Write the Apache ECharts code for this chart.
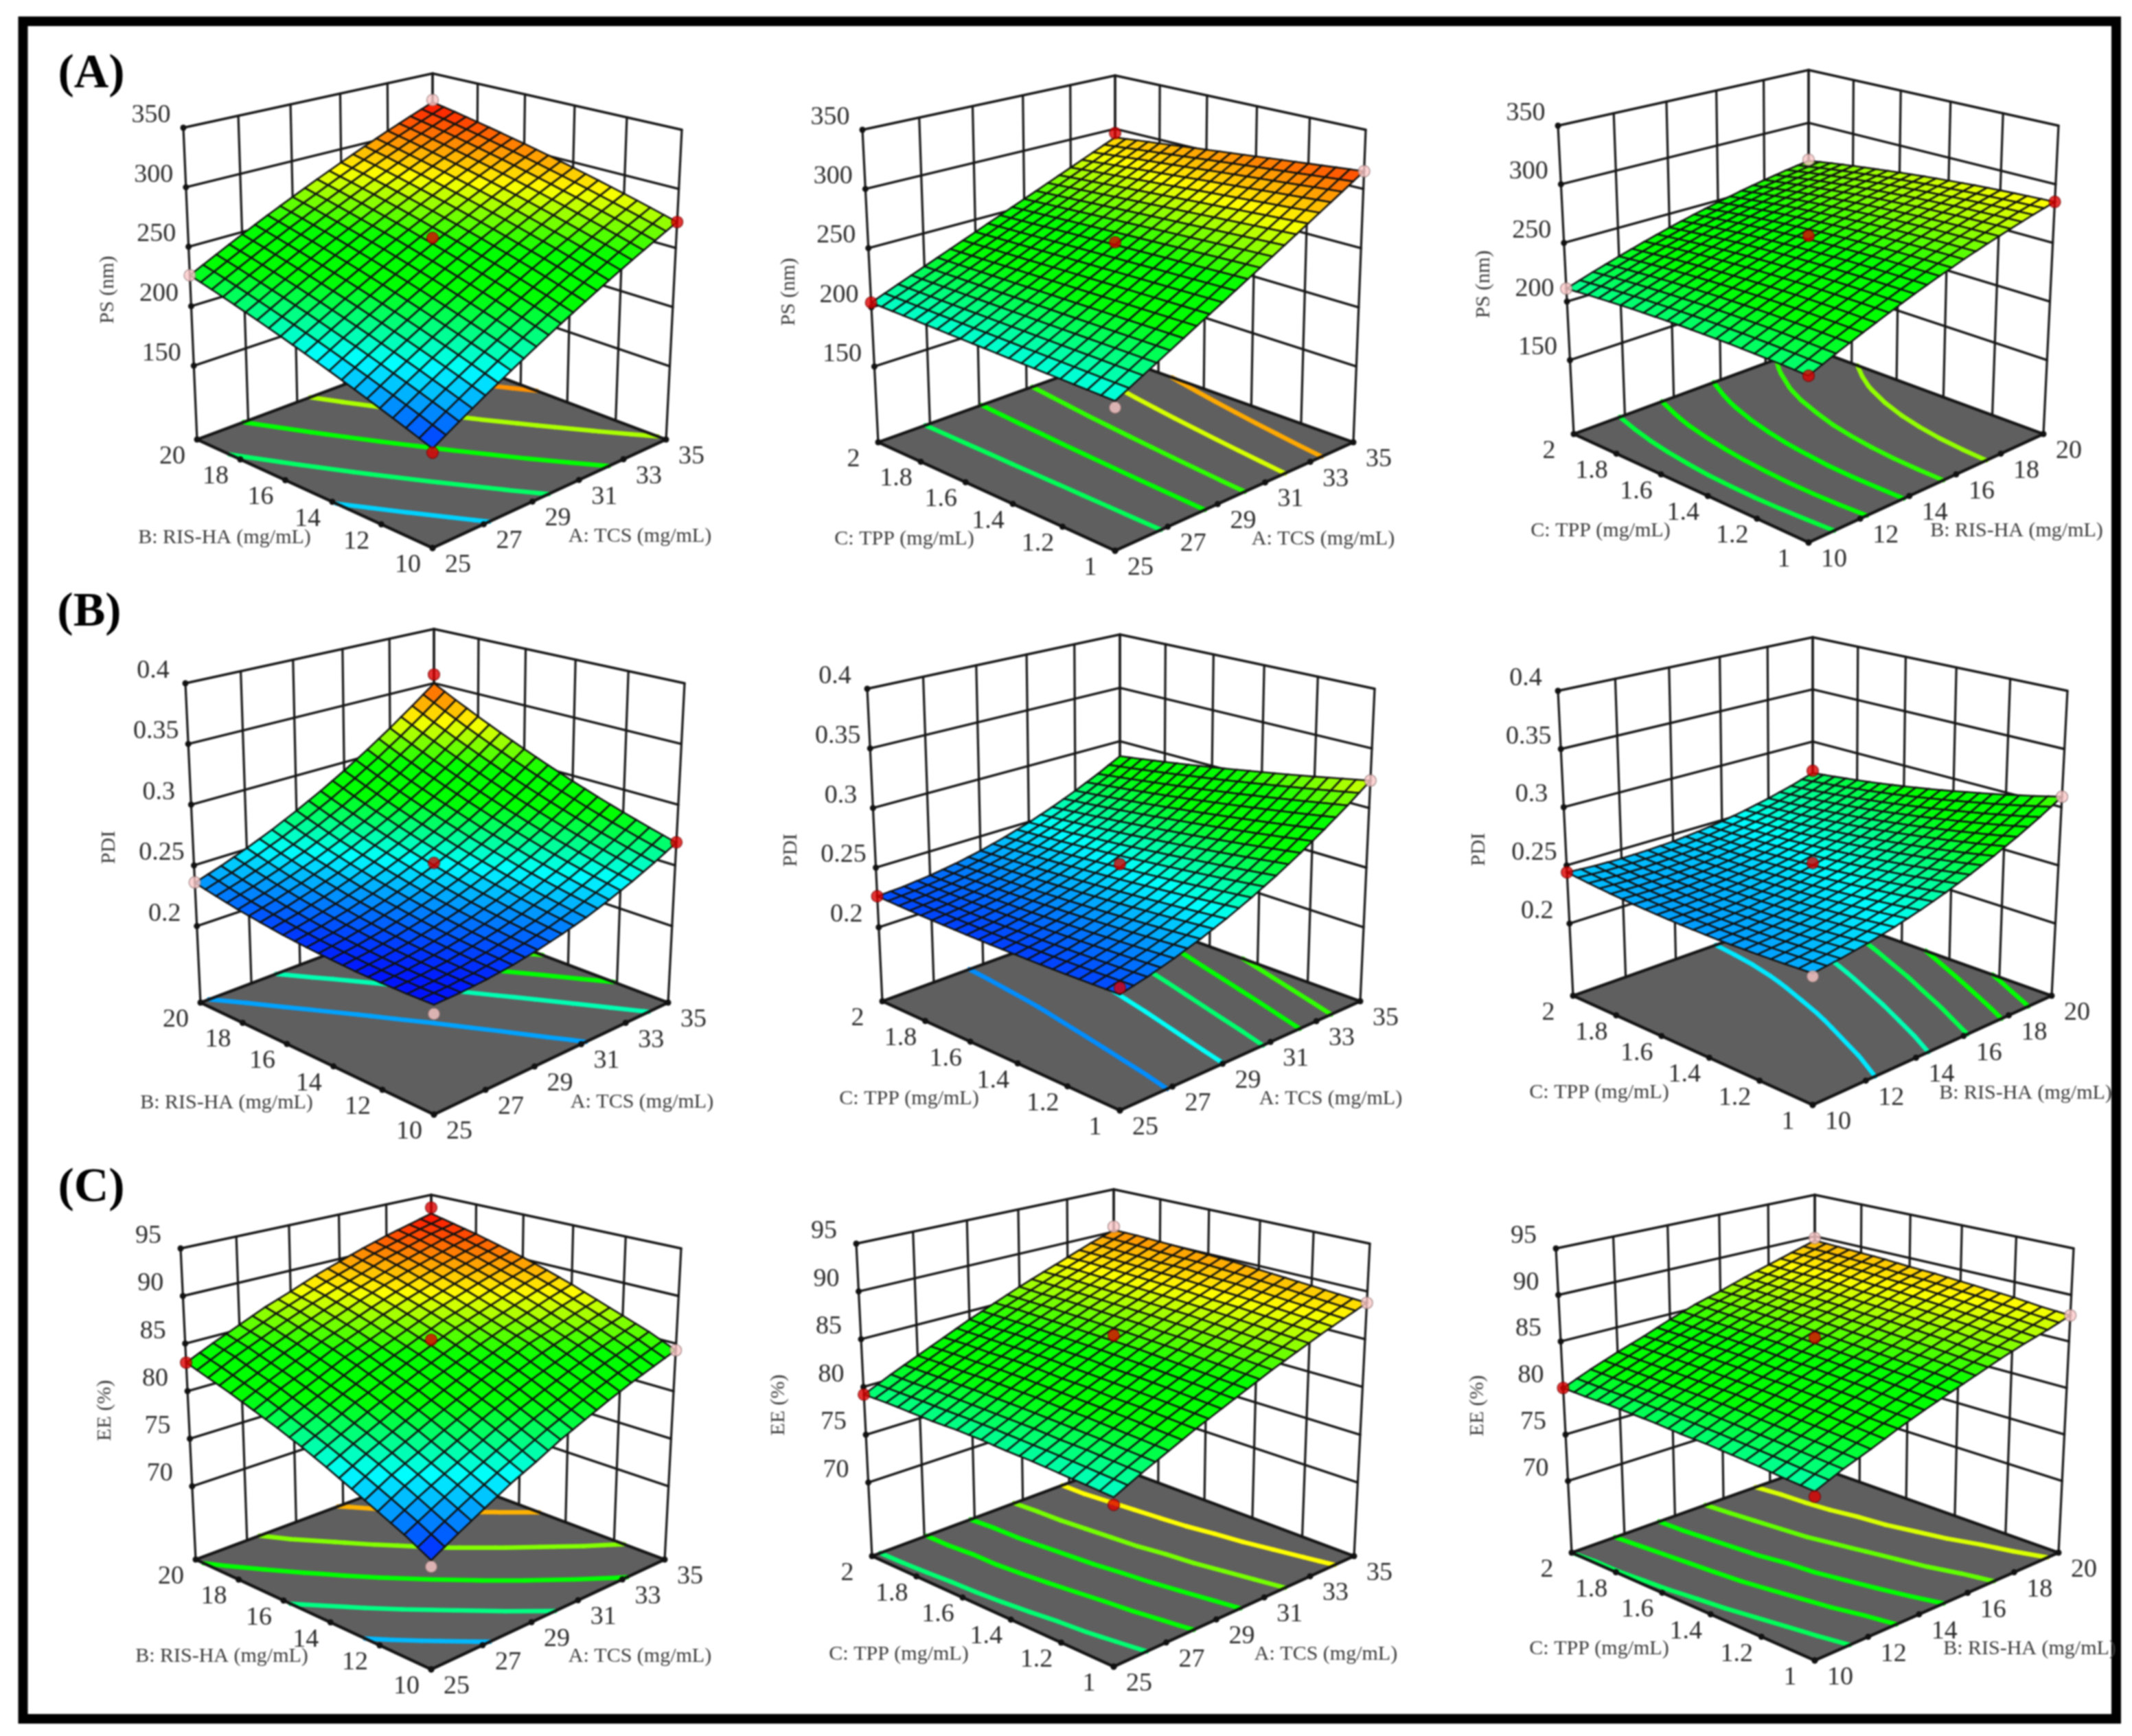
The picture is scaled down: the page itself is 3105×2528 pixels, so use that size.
<!DOCTYPE html>
<html>
<head>
<meta charset="utf-8">
<style>
  html, body { margin: 0; padding: 0; background: #fff; }
  #chart { width: 3105px; height: 2528px; filter: blur(0.8px); }
</style>
<script src="https://cdn.jsdelivr.net/npm/echarts@6/dist/echarts.min.js"></script>
</head>
<body>
<div id="chart"></div>
<script>
// axis ticks
const tcsTicks = [25, 27, 29, 31, 33, 35];
const risTicks = [10, 12, 14, 16, 18, 20];
const tppTicks = [1, 1.2, 1.4, 1.6, 1.8, 2];
const psTicks = [150, 200, 250, 300, 350];
const pdiTicks = [0.2, 0.25, 0.3, 0.35, 0.4];
const eeTicks = [70, 75, 80, 85, 90, 95];

// response surfaces, 11 x 11 nodes
// rows go along the left front edge, columns along the right front edge
const surfaceA1 = [
  [163,175.3,187.4,199.1,210.4,221.5,232.2,242.7,252.8,262.5,272],
  [170.4,182.6,194.5,206.1,217.4,228.3,238.9,249.2,259.2,268.9,278.2],
  [177.5,189.6,201.4,212.8,224,234.8,245.5,255.5,265.3,274.9,284.1],
  [184.4,196.4,208,219.4,230.4,241.1,251.5,261.5,271.3,280.7,289.8],
  [191.1,203,214.5,225.7,236.6,247.2,257.5,267.4,277,286.3,295.3],
  [197.5,209.2,220.7,231.8,242.5,253,263.1,273,282.5,291.6,300.5],
  [203.7,215.3,226.6,237.6,248.3,258.6,268.6,278.3,287.7,296.8,305.5],
  [209.6,221.1,232.3,243.1,253.7,263.9,273.8,283.4,292.6,301.6,310.2],
  [215.3,226.7,237.7,248.5,258.9,269,278.8,288.2,297.4,306.2,314.7],
  [220.8,232.1,243,253.6,263.9,273.9,283.6,293,302,310.6,319],
  [226,237.1,248,258.5,268.6,278.5,288,297.3,306.2,314.7,323]
];
const surfaceA2 = [
  [200,211.5,223,234.5,246,257.5,269,280.5,292,303.5,315],
  [200.4,211.6,222.9,234.1,245.3,256.6,267.8,279,290.2,301.5,312.7],
  [200.8,211.8,222.7,233.7,244.6,255.6,266.6,277.5,288.5,299.4,310.4],
  [201.2,211.9,222.6,233.3,244,254.7,265.3,276,286.7,297.4,308.1],
  [201.6,212,222.4,232.9,243.3,253.7,264.1,274.5,285,295.4,305.8],
  [202,212.2,222.3,232.5,242.6,252.8,262.9,273.1,283.2,293.4,303.5],
  [202.4,212.3,222.2,232,242,251.8,261.7,271.6,281.4,291.3,301.2],
  [202.8,212.4,222,231.6,241.2,250.9,260.5,270.1,279.7,289.3,298.9],
  [203.2,212.5,221.9,231.2,240.6,249.9,259.2,268.6,277.9,287.3,296.6],
  [203.6,212.7,221.7,230.8,239.9,249,258,267.1,276.2,285.2,294.3],
  [204,212.8,221.6,230.4,239.2,248,256.8,265.6,274.4,283.2,292]
];
const surfaceA3 = [
  [215,224.2,232.8,241,248.8,256,262.8,269,274.8,280.2,285],
  [215.8,224.7,233.3,241.3,248.8,255.9,262.5,268.6,274.2,279.4,284.1],
  [216.3,225.1,233.5,241.3,248.7,255.6,262,268,273.4,278.4,282.9],
  [216.6,225.2,233.4,241.1,248.3,255,261.2,267,272.3,277.1,281.5],
  [216.5,225,233,240.5,247.5,254.1,260.2,265.8,270.9,275.5,279.7],
  [216.3,224.6,232.4,239.7,246.6,253,258.9,264.3,269.3,273.8,277.8],
  [215.7,223.8,231.5,238.7,245.4,251.6,257.3,262.6,267.4,271.7,275.5],
  [215,222.9,230.4,237.4,244,250,255.6,260.7,265.3,269.4,273],
  [213.9,221.7,229,235.9,242.2,248.1,253.5,258.4,262.9,266.8,270.3],
  [212.6,220.2,227.3,234,240.2,245.9,251.1,255.9,260.1,263.9,267.3],
  [211,218.5,225.4,231.9,238,243.5,248.5,253.1,257.2,260.9,264]
];
const surfaceB1 = [
  [0.2177,0.2185,0.2202,0.2229,0.2266,0.2312,0.2366,0.2433,0.2508,0.2593,0.2687],
  [0.2173,0.2188,0.2211,0.2245,0.2288,0.234,0.2402,0.2474,0.2555,0.2646,0.2747],
  [0.2175,0.2195,0.2225,0.2265,0.2314,0.2373,0.2441,0.2519,0.2607,0.2704,0.2811],
  [0.218,0.2207,0.2243,0.2289,0.2345,0.241,0.2485,0.2569,0.2663,0.2767,0.288],
  [0.2192,0.2225,0.2267,0.232,0.2381,0.2453,0.2534,0.2625,0.2725,0.2835,0.2954],
  [0.2207,0.2246,0.2295,0.2354,0.2422,0.25,0.2587,0.2684,0.2791,0.2907,0.3033],
  [0.2227,0.2273,0.2328,0.2393,0.2468,0.2552,0.2646,0.275,0.2862,0.2984,0.3117],
  [0.2253,0.2305,0.2367,0.2438,0.2519,0.2609,0.2709,0.2819,0.2938,0.3067,0.3205],
  [0.2282,0.2341,0.2409,0.2486,0.2573,0.267,0.2776,0.2892,0.3018,0.3153,0.3298],
  [0.2318,0.2382,0.2457,0.254,0.2634,0.2737,0.285,0.2972,0.3104,0.3245,0.3396],
  [0.2357,0.2428,0.2509,0.2599,0.2699,0.2808,0.2927,0.3056,0.3194,0.3343,0.3499]
];
const surfaceB2 = [
  [0.225,0.2301,0.2363,0.2435,0.2517,0.261,0.2713,0.2827,0.2951,0.3085,0.323],
  [0.2244,0.2291,0.2349,0.2417,0.2496,0.2585,0.2684,0.2794,0.2914,0.3045,0.3186],
  [0.2239,0.2283,0.2337,0.2401,0.2476,0.2561,0.2657,0.2763,0.2879,0.3006,0.3143],
  [0.2236,0.2276,0.2326,0.2387,0.2458,0.2539,0.2631,0.2733,0.2846,0.2969,0.3102],
  [0.2235,0.2271,0.2317,0.2374,0.2441,0.2519,0.2607,0.2705,0.2814,0.2933,0.3063],
  [0.2235,0.2267,0.231,0.2363,0.2426,0.25,0.2584,0.2679,0.2784,0.2899,0.3025],
  [0.2237,0.2265,0.2304,0.2353,0.2413,0.2483,0.2563,0.2654,0.2755,0.2867,0.2989],
  [0.224,0.2265,0.23,0.2345,0.2401,0.2467,0.2544,0.2631,0.2728,0.2836,0.2954],
  [0.2245,0.2266,0.2297,0.2339,0.2391,0.2453,0.2526,0.2609,0.2703,0.2807,0.2921],
  [0.2252,0.2269,0.2296,0.2334,0.2382,0.2441,0.251,0.2589,0.2679,0.2779,0.289],
  [0.226,0.2273,0.2297,0.2331,0.2375,0.243,0.2495,0.2571,0.2657,0.2753,0.286]
];
const surfaceB3 = [
  [0.2394,0.2424,0.2463,0.251,0.2567,0.2632,0.2706,0.2789,0.288,0.298,0.309],
  [0.2382,0.2408,0.2442,0.2485,0.2537,0.2598,0.2668,0.2746,0.2833,0.2929,0.3034],
  [0.2374,0.2395,0.2425,0.2464,0.2512,0.2568,0.2633,0.2707,0.279,0.2882,0.2982],
  [0.2369,0.2386,0.2412,0.2446,0.249,0.2542,0.2603,0.2673,0.2751,0.2839,0.2935],
  [0.2368,0.2381,0.2402,0.2432,0.2471,0.2519,0.2576,0.2641,0.2715,0.2798,0.289],
  [0.2371,0.2379,0.2396,0.2422,0.2457,0.25,0.2552,0.2613,0.2683,0.2762,0.2849],
  [0.2378,0.2382,0.2394,0.2416,0.2446,0.2485,0.2533,0.2589,0.2654,0.2729,0.2812],
  [0.2388,0.2387,0.2396,0.2413,0.2438,0.2473,0.2516,0.2569,0.2629,0.27,0.2778],
  [0.2401,0.2396,0.24,0.2413,0.2435,0.2465,0.2504,0.2552,0.2609,0.2675,0.2749],
  [0.2419,0.241,0.2409,0.2418,0.2435,0.2461,0.2496,0.254,0.2592,0.2653,0.2723],
  [0.244,0.2426,0.2422,0.2426,0.2438,0.246,0.249,0.253,0.2578,0.2634,0.27]
];
const surfaceC1 = [
  [72.5,74.0,75.4,76.8,78.0,79.3,80.4,81.5,82.5,83.4,84.3],
  [73.9,75.3,76.7,78.0,79.3,80.5,81.6,82.7,83.7,84.6,85.5],
  [75.1,76.6,77.9,79.2,80.5,81.7,82.8,83.8,84.8,85.7,86.5],
  [76.3,77.8,79.1,80.4,81.6,82.8,83.9,85.0,85.8,86.7,87.5],
  [77.5,78.9,80.2,81.5,82.7,83.8,84.9,85.9,86.8,87.7,88.5],
  [78.6,79.9,81.3,82.5,83.7,84.8,85.9,86.8,87.7,88.6,89.4],
  [79.6,80.9,82.2,83.5,84.6,85.7,86.8,87.7,88.6,89.4,90.2],
  [80.5,81.9,83.1,84.4,85.5,86.6,87.6,88.5,89.4,90.2,90.9],
  [81.4,82.7,84.0,85.2,86.3,87.4,88.4,89.3,90.1,90.9,91.6],
  [82.2,83.6,84.8,86.0,87.1,88.1,89.0,90.0,90.8,91.6,92.2],
  [83.0,84.3,85.5,86.7,87.7,88.8,89.7,90.6,91.4,92.1,92.8]
];
const surfaceC2 = [
  [78.0,79.3,80.5,81.7,82.8,83.9,85.0,86.0,87.0,87.9,88.8],
  [78.2,79.5,80.7,81.9,83.0,84.1,85.2,86.2,87.2,88.1,89.0],
  [78.4,79.7,80.9,82.1,83.2,84.3,85.4,86.4,87.4,88.3,89.2],
  [78.6,79.8,81.1,82.2,83.4,84.5,85.6,86.6,87.6,88.5,89.4],
  [78.7,80.0,81.2,82.4,83.5,84.7,85.7,86.8,87.7,88.7,89.6],
  [78.9,80.1,81.4,82.5,83.7,84.8,85.9,86.9,87.9,88.8,89.8],
  [79.0,80.2,81.5,82.7,83.8,84.9,86.0,87.0,88.0,89.0,89.9],
  [79.0,80.3,81.6,82.8,83.9,85.0,86.1,87.1,88.1,89.0,90.0],
  [79.1,80.4,81.6,82.8,84.0,85.1,86.2,87.2,88.2,89.1,90.1],
  [79.2,80.4,81.7,82.9,84.0,85.2,86.2,87.3,88.3,89.2,90.2],
  [79.2,80.5,81.7,82.9,84.1,85.2,86.3,87.3,88.3,89.3,90.2]
];
const surfaceC3 = [
  [78.5,79.7,80.7,81.8,82.8,83.7,84.6,85.5,86.3,87.0,87.8],
  [78.7,79.9,81.0,82.0,83.0,84.0,84.9,85.7,86.5,87.3,88.0],
  [79.0,80.1,81.2,82.3,83.3,84.2,85.1,86.0,86.8,87.5,88.3],
  [79.2,80.3,81.4,82.5,83.5,84.4,85.3,86.2,87.0,87.8,88.5],
  [79.4,80.5,81.6,82.7,83.7,84.6,85.5,86.4,87.2,88.0,88.7],
  [79.5,80.7,81.8,82.8,83.8,84.8,85.7,86.5,87.4,88.2,88.9],
  [79.7,80.8,81.9,83.0,84.0,85.0,85.9,86.7,87.5,88.3,89.0],
  [79.8,80.9,82.0,83.1,84.1,85.1,86.0,86.8,87.7,88.5,89.2],
  [79.9,81.0,82.1,83.2,84.2,85.2,86.1,86.9,87.8,88.6,89.3],
  [79.9,81.1,82.2,83.3,84.3,85.3,86.2,87.0,87.8,88.7,89.4],
  [80.0,81.2,82.3,83.3,84.4,85.4,86.2,87.1,87.9,88.7,89.5]
];

// contour levels on the floor of each panel
const levelsA1 = [190, 218, 246, 274, 302];
const levelsA2 = [220, 240, 259, 279, 298];
const levelsA3 = [224, 235, 247, 259, 271];
const levelsB1 = [0.238, 0.26, 0.282, 0.304, 0.326];
const levelsB2 = [0.235, 0.252, 0.268, 0.286, 0.304];
const levelsB3 = [0.248, 0.26, 0.272, 0.285, 0.297];
const levelsC1 = [75.8, 79.3, 82.7, 86.1, 89.5];
const levelsC2 = [79.6, 81.8, 83.9, 85.9, 88];
const levelsC3 = [80, 81.9, 83.7, 85.6, 87.4];

// design points: right axis value, left axis value, response, 1 = pink (below the surface)
const pointsA1 = [[25,10,160,0],[35,10,272,0],[25,20,226,1],[35,20,325,1],[30,15,258,0]];
const pointsA2 = [[25,1,195,1],[35,1,315,1],[25,2,204,0],[35,2,296,0],[30,1.5,255,0]];
const pointsA3 = [[10,1,215,0],[20,1,285,0],[10,2,211,1],[20,2,265,1],[15,1.5,256,0]];
const pointsB1 = [[25,10,0.211,1],[35,10,0.269,0],[25,20,0.236,1],[35,20,0.358,0],[30,15,0.252,0]];
const pointsB2 = [[25,1,0.23,0],[35,1,0.323,1],[25,2,0.226,0],[30,1.5,0.253,0]];
const pointsB3 = [[10,1,0.237,1],[20,1,0.309,1],[10,2,0.244,0],[20,2,0.272,0],[15,1.5,0.252,0]];
const pointsC1 = [[25,10,71.9,1],[35,10,84.3,1],[25,20,83,0],[35,20,93.5,0],[30,15,85.4,0]];
const pointsC2 = [[25,1,77.3,0],[35,1,88.8,1],[25,2,79.2,0],[35,2,90.6,1],[30,1.5,85.4,0]];
const pointsC3 = [[10,1,78,0],[20,1,87.8,1],[10,2,80,0],[20,2,89.8,1],[15,1.5,85.4,0]];

const A_TITLE = "A: TCS (mg/mL)";
const B_TITLE = "B: RIS-HA (mg/mL)";
const C_TITLE = "C: TPP (mg/mL)";

// responses: tick list, colour range, axis title
const PS = { ticks: psTicks, cRange: [155, 325], title: "PS (nm)" };
const PDI = { ticks: pdiTicks, cRange: [0.215, 0.36], title: "PDI" };
const EE = { ticks: eeTicks, cRange: [72, 93], title: "EE (%)" };

// box geometry in page pixels: floor corners F R B L, top corners Rt Bt Lt,
// base = response at floor level, then title anchors
const panels = [
  { resp: PS, surf: surfaceA1, levels: levelsA1, pts: pointsA1, right: tcsTicks, left: risTicks, rTitle: A_TITLE, lTitle: B_TITLE,
    F:[630,798], R:[970,640], B:[630,512], L:[287,640], Rt:[993,189], Bt:[630,107], Lt:[267,186], base:88, zT:[157,422], lT:[327,783], rT:[932,781] },
  { resp: PS, surf: surfaceA2, levels: levelsA2, pts: pointsA2, right: tcsTicks, left: tppTicks, rTitle: A_TITLE, lTitle: C_TITLE,
    F:[1624,802], R:[1971,644], B:[1624,520], L:[1279,644], Rt:[1989,189], Bt:[1624,110], Lt:[1256,189], base:86, zT:[1149,425], lT:[1317,785], rT:[1927,785] },
  { resp: PS, surf: surfaceA3, levels: levelsA3, pts: pointsA3, right: risTicks, left: tppTicks, rTitle: B_TITLE, lTitle: C_TITLE,
    F:[2634,790], R:[2976,632], B:[2634,506], L:[2292,632], Rt:[2998,183], Bt:[2634,102], Lt:[2269,183], base:87, zT:[2161,414], lT:[2331,773], rT:[2937,773] },
  { resp: PDI, surf: surfaceB1, levels: levelsB1, pts: pointsB1, right: tcsTicks, left: risTicks, rTitle: A_TITLE, lTitle: B_TITLE,
    F:[632,1623], R:[973,1460], B:[632,1331], L:[292,1460], Rt:[997,995], Bt:[632,916], Lt:[270,995], base:0.137, zT:[159,1234], lT:[330,1606], rT:[935,1605] },
  { resp: PDI, surf: surfaceB2, levels: levelsB2, pts: pointsB2, right: tcsTicks, left: tppTicks, rTitle: A_TITLE, lTitle: C_TITLE,
    F:[1631,1617], R:[1981,1458], B:[1631,1331], L:[1285,1458], Rt:[2002,1003], Bt:[1631,924], Lt:[1263,1003], base:0.138, zT:[1152,1238], lT:[1324,1600], rT:[1938,1600] },
  { resp: PDI, surf: surfaceB3, levels: levelsB3, pts: pointsB3, right: risTicks, left: tppTicks, rTitle: B_TITLE, lTitle: C_TITLE,
    F:[2640,1609], R:[2988,1450], B:[2640,1326], L:[2291,1450], Rt:[3011,1006], Bt:[2640,928], Lt:[2269,1006], base:0.138, zT:[2154,1237], lT:[2329,1591], rT:[2950,1592] },
  { resp: EE, surf: surfaceC1, levels: levelsC1, pts: pointsC1, right: tcsTicks, left: risTicks, rTitle: A_TITLE, lTitle: B_TITLE,
    F:[628,2431], R:[968,2271], B:[628,2143], L:[285,2271], Rt:[992,1818], Bt:[628,1740], Lt:[263,1818], base:62.3, zT:[153,2054], lT:[323,2412], rT:[932,2412] },
  { resp: EE, surf: surfaceC2, levels: levelsC2, pts: pointsC2, right: tcsTicks, left: tppTicks, rTitle: A_TITLE, lTitle: C_TITLE,
    F:[1622,2427], R:[1972,2266], B:[1622,2135], L:[1270,2266], Rt:[1995,1811], Bt:[1622,1732], Lt:[1247,1811], base:62.3, zT:[1134,2046], lT:[1309,2409], rT:[1931,2409] },
  { resp: EE, surf: surfaceC3, levels: levelsC3, pts: pointsC3, right: risTicks, left: tppTicks, rTitle: B_TITLE, lTitle: C_TITLE,
    F:[2643,2418], R:[2998,2261], B:[2643,2135], L:[2289,2261], Rt:[3020,1818], Bt:[2643,1740], Lt:[2266,1818], base:62.3, zT:[2152,2047], lT:[2329,2401], rT:[2956,2401] }
];

const FONT = '"Liberation Serif"';
// colour ramp, green holds for a wide band like the reference
const STOPS = [[0,[0,0,255]],[0.25,[0,255,255]],[0.45,[0,255,0]],[0.58,[0,255,0]],[0.76,[255,255,0]],[1,[255,0,0]]];

function jet(t) {
  t = Math.max(0, Math.min(1, t));
  let k = 0;
  while (k < STOPS.length - 2 && t > STOPS[k + 1][0]) k++;
  const f = (t - STOPS[k][0]) / (STOPS[k + 1][0] - STOPS[k][0]), a = STOPS[k][1], b = STOPS[k + 1][1];
  return "rgb(" + a.map((c, n) => Math.round(c + (b[n] - c) * f)).join(",") + ")";
}

// unit square -> quad, corners in order (0,0) (1,0) (1,1) (0,1)
function homography(p0, p1, p2, p3) {
  const dx1 = p1[0] - p2[0], dx2 = p3[0] - p2[0], sx = p0[0] - p1[0] + p2[0] - p3[0];
  const dy1 = p1[1] - p2[1], dy2 = p3[1] - p2[1], sy = p0[1] - p1[1] + p2[1] - p3[1];
  const den = dx1 * dy2 - dx2 * dy1;
  const g = (sx * dy2 - dx2 * sy) / den, h = (dx1 * sy - sx * dy1) / den;
  const a = p1[0] - p0[0] + g * p1[0], b = p3[0] - p0[0] + h * p3[0];
  const d = p1[1] - p0[1] + g * p1[1], e = p3[1] - p0[1] + h * p3[1];
  return (u, v) => {
    const w = g * u + h * v + 1;
    return [(a * u + b * v + p0[0]) / w, (d * u + e * v + p0[1]) / w];
  };
}

// u runs F->R, v runs F->L, z is the response
function makeProjector(p) {
  const sideH = (p.L[1] - p.Lt[1] + p.R[1] - p.Rt[1]) / 2;
  const backH = p.B[1] - p.Bt[1];
  const Ft = [p.F[0], p.F[1] - sideH * sideH / backH];
  const floor = homography(p.F, p.R, p.B, p.L);
  const top = homography(Ft, p.Rt, p.Bt, p.Lt);
  const zTop = p.resp.ticks[p.resp.ticks.length - 1];
  return (u, v, z) => {
    const t = (z - p.base) / (zTop - p.base);
    const a = floor(u, v), b = top(u, v);
    return [a[0] + (b[0] - a[0]) * t, a[1] + (b[1] - a[1]) * t];
  };
}

function tickPos(ticks, value) {
  return (value - ticks[0]) / (ticks[ticks.length - 1] - ticks[0]);
}

// marching squares over the node table, result in u,v
function contourSegments(surf, level) {
  const segs = [], n = surf.length - 1;
  for (let j = 0; j < n; j++) for (let i = 0; i < n; i++) {
    const c = [[i, j], [i + 1, j], [i + 1, j + 1], [i, j + 1]];
    const hits = [];
    for (let k = 0; k < 4; k++) {
      const a = c[k], b = c[(k + 1) % 4];
      const za = surf[a[1]][a[0]], zb = surf[b[1]][b[0]];
      if ((za < level) !== (zb < level)) {
        const f = (level - za) / (zb - za);
        hits.push([(a[0] + (b[0] - a[0]) * f) / n, (a[1] + (b[1] - a[1]) * f) / n]);
      }
    }
    for (let k = 0; k + 1 < hits.length; k += 2) segs.push([hits[k], hits[k + 1]]);
  }
  return segs;
}

// each node-table cell is one bilinear patch, drawn as 2 x 2 mesh faces
function surfaceCells(surf) {
  const out = [], n = surf.length - 1;
  for (let j = n - 1; j >= 0; j--) for (let i = n - 1; i >= 0; i--) {
    const z = (a, b) => surf[j][i] * (1 - a) * (1 - b) + surf[j][i + 1] * a * (1 - b) + surf[j + 1][i + 1] * a * b + surf[j + 1][i] * (1 - a) * b;
    [[0.5, 0.5], [0, 0.5], [0.5, 0], [0, 0]].forEach(([a, b]) => {
      out.push([(i + a) / n, (j + b) / n, (i + a + 0.5) / n, (j + b + 0.5) / n, z(a, b), z(a + 0.5, b), z(a + 0.5, b + 0.5), z(a, b + 0.5)]);
    });
  }
  return out;
}

function line(a, b, width, color) {
  return { type: "line", shape: { x1: a[0], y1: a[1], x2: b[0], y2: b[1] }, style: { stroke: color || "#151515", lineWidth: width, lineCap: "round" }, silent: true };
}
function dot(c, r) {
  return { type: "circle", shape: { cx: c[0], cy: c[1], r: r }, style: { fill: "#111" }, silent: true };
}
function label(text, c, size, color, rotation) {
  return { type: "text", x: c[0], y: c[1], rotation: rotation || 0, silent: true,
    style: { text: String(text), fill: color, font: size + "px " + FONT, align: "center", verticalAlign: "middle" } };
}

const grids = [], xAxes = [], yAxes = [], series = [];

panels.forEach((p, idx) => {
  const project = makeProjector(p);
  const x0 = p.Lt[0] - 160, x1 = p.Rt[0] + 70, y0 = p.Bt[1] - 30, y1 = p.F[1] + 60;
  grids.push({ left: x0, top: y0, width: x1 - x0, height: y1 - y0 });
  xAxes.push({ type: "value", gridIndex: idx, min: x0, max: x1, show: false });
  yAxes.push({ type: "value", gridIndex: idx, min: y0, max: y1, inverse: true, show: false });
  const ticks = p.resp.ticks, zTop = ticks[ticks.length - 1];
  const cr = p.resp.cRange;
  const color = (z) => jet((z - cr[0]) / (cr[1] - cr[0]));
  const base = { type: "custom", coordinateSystem: "cartesian2d", xAxisIndex: idx, yAxisIndex: idx, clip: false, silent: true, animation: false, progressive: 0 };

  // walls, floor, contours, ticks and labels
  series.push(Object.assign({}, base, {
    data: [[x0, y0]],
    renderItem: (params, api) => {
      const at = (u, v, z) => api.coord(project(u, v, z));
      const kids = [];
      // floor first: walls stand on it
      const fl = [[0, 0], [1, 0], [1, 1], [0, 1]].map(q => at(q[0], q[1], p.base));
      kids.push({ type: "polygon", shape: { points: fl }, style: { fill: "#5f5f5f" }, silent: true });
      // horizontal wall lines at each response tick, and the top rim
      ticks.forEach(z => {
        kids.push(line(at(0, 1, z), at(1, 1, z), 3.4));
        kids.push(line(at(1, 1, z), at(1, 0, z), 3.4));
      });
      // vertical wall lines
      p.right.forEach(t => { const u = tickPos(p.right, t); kids.push(line(at(u, 1, p.base), at(u, 1, zTop), 3.2)); });
      p.left.forEach(t => { const v = tickPos(p.left, t); kids.push(line(at(1, v, p.base), at(1, v, zTop), 3.2)); });
      // contours
      p.levels.forEach(level => {
        const stroke = color(level);
        contourSegments(p.surf, level).forEach(s => {
          kids.push(line(at(s[0][0], s[0][1], p.base), at(s[1][0], s[1][1], p.base), 6.5, stroke));
        });
      });
      // floor rim
      for (let k = 0; k < 4; k++) kids.push(line(fl[k], fl[(k + 1) % 4], 4.5));
      // tick dots and numbers on the two front edges
      p.left.forEach(t => {
        const c = at(0, tickPos(p.left, t), p.base);
        kids.push(dot(c, 4.5));
        kids.push(label(t, [c[0] - 36, c[1] + 25], 38, "#2a2a2a"));
      });
      p.right.forEach(t => {
        const c = at(tickPos(p.right, t), 0, p.base);
        kids.push(dot(c, 4.5));
        kids.push(label(t, [c[0] + 37, c[1] + 25], 38, "#2a2a2a"));
      });
      // response ticks on the left post
      ticks.forEach(z => {
        const c = at(0, 1, z);
        kids.push(dot(c, 4.5));
        kids.push(label(z, [c[0] - 47, c[1] - 18], 38, "#2a2a2a"));
      });
      kids.push(label(p.resp.title, api.coord(p.zT), 30, "#3a3a3a", Math.PI / 2));
      kids.push(label(p.lTitle, api.coord(p.lT), 30, "#3a3a3a"));
      kids.push(label(p.rTitle, api.coord(p.rT), 30, "#3a3a3a"));
      return { type: "group", children: kids };
    }
  }));

  // mesh, back to front
  series.push(Object.assign({}, base, {
    data: surfaceCells(p.surf),
    renderItem: (params, api) => {
      const u0 = api.value(0), v0 = api.value(1), u1 = api.value(2), v1 = api.value(3);
      const z = [api.value(4), api.value(5), api.value(6), api.value(7)];
      const pts = [project(u0, v0, z[0]), project(u1, v0, z[1]), project(u1, v1, z[2]), project(u0, v1, z[3])].map(q => api.coord(q));
      return { type: "polygon", shape: { points: pts }, silent: true,
        style: { fill: color((z[0] + z[1] + z[2] + z[3]) / 4), stroke: "#111", lineWidth: 2.5 } };
    }
  }));

  // design points
  series.push({
    type: "scatter", xAxisIndex: idx, yAxisIndex: idx, symbolSize: 17, clip: false, silent: true, animation: false,
    data: p.pts.map(d => ({
      value: project(tickPos(p.right, d[0]), tickPos(p.left, d[1]), d[2]),
      itemStyle: { color: d[3] ? "#fbc8c8" : "#dc0000", borderColor: d[3] ? "#8a6a6a" : "#700000", borderWidth: 1.2 }
    }))
  });
});

const chart = echarts.init(document.getElementById("chart"), null, { width: 3105, height: 2528 });
chart.setOption({
  animation: false,
  backgroundColor: "#fff",
  grid: grids,
  xAxis: xAxes,
  yAxis: yAxes,
  series: series,
  graphic: [
    { type: "rect", shape: { x: 33.5, y: 31, width: 3048.5, height: 2472 }, style: { fill: "none", stroke: "#000", lineWidth: 14 }, silent: true },
    { type: "text", x: 133, y: 109, style: { text: "(A)", fill: "#000", font: 'bold 70px ' + FONT, align: "center", verticalAlign: "middle" }, silent: true },
    { type: "text", x: 130, y: 893, style: { text: "(B)", fill: "#000", font: 'bold 70px ' + FONT, align: "center", verticalAlign: "middle" }, silent: true },
    { type: "text", x: 133, y: 1731, style: { text: "(C)", fill: "#000", font: 'bold 70px ' + FONT, align: "center", verticalAlign: "middle" }, silent: true }
  ]
});
</script>
</body>
</html>
